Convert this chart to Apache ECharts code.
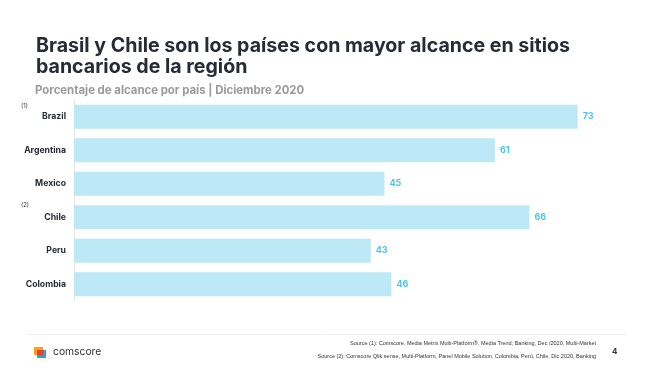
<!DOCTYPE html>
<html><head><meta charset="utf-8">
<script src="https://cdn.jsdelivr.net/npm/echarts@6/dist/echarts.min.js"></script>
<style>html,body{margin:0;padding:0;background:#fff}#c{width:660px;height:371px}</style>
</head><body><div id="c"></div>
<script>
const categories = ['Brazil','Argentina','Mexico','Chile','Peru','Colombia'];
const values = [73, 61, 45, 66, 43, 46];
const notes = {Brazil:'(1)', Chile:'(2)'};
const titleText = 'Brasil y Chile son los países con mayor alcance en sitios\nbancarios de la región';
const subtitleText = 'Porcentaje de alcance por país | Diciembre 2020';
const source1 = 'Source (1): Comscore, Media Metrix Multi-Platform®, Media Trend, Banking, Dec /2020, Multi-Market';
const source2 = 'Source (2): Comscore Qlik sense, Multi-Platform, Panel Mobile Solution, Colombia, Perú, Chile, Dic 2020, Banking';

const chart = echarts.init(document.getElementById('c'));
chart.setOption({
  animation:false,
  title:[
    {text:titleText,left:31,top:31,textStyle:{fontFamily:'Inter',fontWeight:'bold',fontSize:19.6,color:'#262b36',lineHeight:21}},
    {text:subtitleText,left:30,top:80,textStyle:{fontFamily:'Inter',fontWeight:'bold',fontSize:11.4,color:'#9a9a9a'}}
  ],
  grid:{left:74,right:34,top:100,bottom:70,containLabel:false},
  xAxis:{type:'value',min:0,max:80,show:false},
  yAxis:{type:'category',data:categories,inverse:true,
    axisLine:{show:true,lineStyle:{color:'#e3e5ea',width:1}},
    axisTick:{show:false},
    axisLabel:{margin:8,fontFamily:'Inter',fontWeight:'bold',fontSize:8.7,color:'#262b36'}},
  series:[{type:'bar',data:values,barWidth:24,
    itemStyle:{color:'#bde9f6'},
    label:{show:true,position:'right',distance:5,fontFamily:'Inter',fontWeight:'bold',fontSize:9,color:'#4cc4ea'}}],
  graphic:[
    {type:'text',left:21,top:103,style:{text:notes.Brazil,fontFamily:'Inter',fontSize:6,fill:'#333'}},
    {type:'text',left:21,top:202,style:{text:notes.Chile,fontFamily:'Inter',fontSize:6,fill:'#333'}},
    {type:'line',shape:{x1:27,y1:334.5,x2:626,y2:334.5},style:{stroke:'#eeeeee',lineWidth:1}},
    {type:'text',right:64,top:340,style:{text:source1,fontFamily:'Liberation Sans',fontSize:5.5,fill:'#333',align:'right'}},
    {type:'text',right:64,top:353,style:{text:source2,fontFamily:'Liberation Sans',fontSize:5.5,fill:'#333',align:'right'}},
    {type:'text',left:612,top:348,style:{text:'4',fontFamily:'Inter',fontWeight:'bold',fontSize:8,fill:'#333'}},
    {type:'rect',shape:{x:34,y:347,width:9,height:8},style:{fill:'#f7a21b'}},
    {type:'rect',shape:{x:37,y:350,width:9,height:8},style:{fill:'#1fa4e0'}},
    {type:'rect',shape:{x:37,y:350,width:6,height:5},style:{fill:'#e8412c'}},
    {type:'text',left:53,top:347,style:{text:'comscore',fontFamily:'Inter',fontSize:10.3,fill:'#333'}}
  ]
});
</script></body></html>
